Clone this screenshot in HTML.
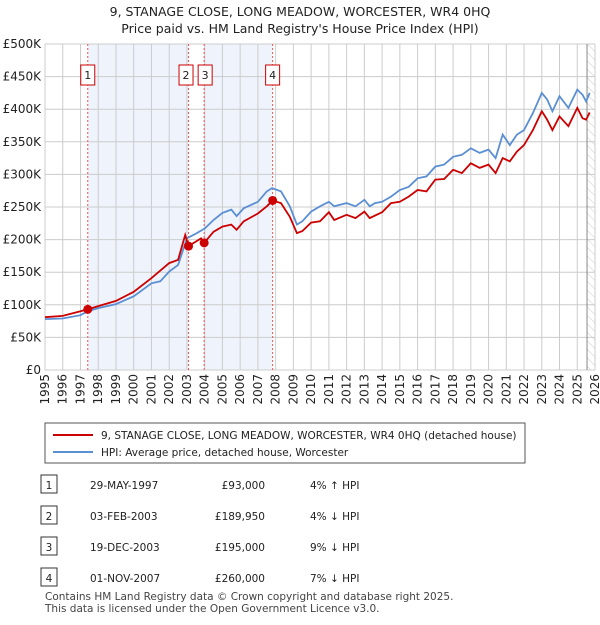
<!DOCTYPE html>
<html><head><meta charset="utf-8"><style>
body{margin:0;background:#fff;font-family:"Liberation Sans","DejaVu Sans",sans-serif;}
svg text{font-family:"DejaVu Sans","Liberation Sans",sans-serif;}
</style></head><body>
<svg id="c" width="600" height="620" viewBox="0 0 600 620">
<defs><pattern id="hatch" width="6" height="6" patternUnits="userSpaceOnUse" patternTransform="rotate(-45)"><line x1="0" y1="0" x2="0" y2="6" stroke="#ccc" stroke-width="1"/></pattern></defs>
<text x="300" y="16" text-anchor="middle" font-size="12.5" fill="#222">9, STANAGE CLOSE, LONG MEADOW, WORCESTER, WR4 0HQ</text>
<text x="300" y="33" text-anchor="middle" font-size="12.5" fill="#222">Price paid vs. HM Land Registry's House Price Index (HPI)</text>
<g id="plot"></g>
<rect x="45" y="423" width="480" height="40" fill="#fff" stroke="#555"/>
<line x1="53" y1="435" x2="93" y2="435" stroke="#cc0000" stroke-width="2"/>
<text x="101" y="439" font-size="10.5" fill="#222">9, STANAGE CLOSE, LONG MEADOW, WORCESTER, WR4 0HQ (detached house)</text>
<line x1="53" y1="452" x2="93" y2="452" stroke="#5b8fd4" stroke-width="2"/>
<text x="101" y="456" font-size="10.5" fill="#222">HPI: Average price, detached house, Worcester</text>
<g id="tbl"></g>
<text x="45" y="600" font-size="10.5" fill="#444">Contains HM Land Registry data © Crown copyright and database right 2025.</text>
<text x="45" y="612" font-size="10.5" fill="#444">This data is licensed under the Open Government Licence v3.0.</text>
</svg>
<script>
const hpiYears=[1995,1996,1997,1997.4,1998,1999,2000,2001,2001.5,2002,2002.5,2003,2003.5,2004,2004.5,2005,2005.5,2005.8,2006.2,2007,2007.5,2007.8,2008.3,2008.8,2009.2,2009.5,2010,2010.5,2011,2011.3,2012,2012.5,2013,2013.3,2013.6,2014,2014.5,2015,2015.5,2016,2016.5,2017,2017.5,2018,2018.5,2019,2019.5,2020,2020.4,2020.8,2021.2,2021.6,2022,2022.5,2023,2023.3,2023.6,2024,2024.5,2025,2025.3,2025.5,2025.7];
const hpiValues=[78,79,84,90,95,101,113,133,136,151,161,202,209,217,230,241,246,236,248,258,274,279,274,251,223,228,243,251,258,251,256,251,261,251,256,258,266,276,281,294,297,312,315,327,330,340,333,338,325,361,345,361,368,394,425,415,397,420,402,430,422,412,425];
const priceYears=[1995,1996,1997,1997.4,1998,1999,2000,2001,2002,2002.5,2002.9,2003.09,2003.5,2003.8,2003.97,2004.5,2005,2005.5,2005.8,2006.2,2007,2007.5,2007.83,2008.3,2008.8,2009.2,2009.5,2010,2010.5,2011,2011.3,2012,2012.5,2013,2013.3,2014,2014.5,2015,2015.5,2016,2016.5,2017,2017.5,2018,2018.5,2019,2019.5,2020,2020.4,2020.8,2021.2,2021.6,2022,2022.5,2023,2023.3,2023.6,2024,2024.5,2025,2025.3,2025.5,2025.7];
const priceValues=[81,83,90,93,98,106,120,141,164,169,207,190,197,202,195,212,220,223,215,228,240,251,260,256,235,210,213,226,228,242,230,238,233,243,233,242,256,258,266,276,274,292,293,307,302,317,310,315,302,325,320,335,345,368,397,384,368,389,374,402,386,384,395];
const saleYears=[1997.41,2003.09,2003.97,2007.83];
const saleValues=[93,189.95,195,260];
const saleLabels=["1","2","3","4"];
const yTicks=[0,50,100,150,200,250,300,350,400,450,500];
const yTickLabels=["£0","£50K","£100K","£150K","£200K","£250K","£300K","£350K","£400K","£450K","£500K"];
const xTicks=[1995,1996,1997,1998,1999,2000,2001,2002,2003,2004,2005,2006,2007,2008,2009,2010,2011,2012,2013,2014,2015,2016,2017,2018,2019,2020,2021,2022,2023,2024,2025,2026];
const rowDates=["29-MAY-1997","03-FEB-2003","19-DEC-2003","01-NOV-2007"];
const rowPrices=["£93,000","£189,950","£195,000","£260,000"];
const rowHpi=["4% ↑ HPI","4% ↓ HPI","9% ↓ HPI","7% ↓ HPI"];

const NS="http://www.w3.org/2000/svg";
const X0=45,X1=595,Y0=370,Y1=44,T0=1995,T1=2026,dataEnd=2025.55;
const xs=t=>X0+(t-T0)/(T1-T0)*(X1-X0);
const ys=v=>Y0-v/500*(Y0-Y1);
const plot=document.getElementById('plot');
function mk(tag,attrs,parent){const e=document.createElementNS(NS,tag);for(const k in attrs)e.setAttribute(k,attrs[k]);(parent||plot).appendChild(e);return e;}
// shading
for(const [a,b] of [[saleYears[0],saleYears[1]],[saleYears[2],saleYears[3]]]){
 const r=mk('rect',{x:xs(a),y:Y1,width:xs(b)-xs(a),height:Y0-Y1,fill:'#eef3fc'});
 
 
}
const h=mk('rect',{x:xs(dataEnd),y:Y1,width:X1-xs(dataEnd),height:Y0-Y1,fill:'url(#hatch)'});


// grid
yTicks.forEach((v,i)=>{
 const l=mk('line',{x1:X0,x2:X1,y1:ys(v),y2:ys(v),stroke:'#ccc','stroke-width':1});
 
 
 const t=mk('text',{x:X0-4,y:ys(v)+4,'text-anchor':'end','font-size':12,fill:'#222'});
 t.textContent=yTickLabels[i];
 
 
});
xTicks.forEach(yr=>{
 const l=mk('line',{x1:xs(yr),x2:xs(yr),y1:Y1,y2:Y0,stroke:'#ccc','stroke-width':1});
 
 
 const t=mk('text',{x:0,y:0,'text-anchor':'end','font-size':12,fill:'#222',transform:`translate(${xs(yr)+4},374) rotate(-90)`});
 t.textContent=yr;
 
 
});
const el=mk('line',{x1:xs(dataEnd),x2:xs(dataEnd),y1:Y1,y2:Y0,stroke:'#888','stroke-width':1});


// sale lines and labels
saleYears.forEach((yr,i)=>{
 const l=mk('line',{x1:xs(yr),x2:xs(yr),y1:Y1,y2:Y0,stroke:'#e55','stroke-width':1,'stroke-dasharray':'2,2'});
 
 
 let bx=xs(yr)-7; if(i===1)bx=xs(yr)-9; if(i===2)bx=xs(yr)-8+1;
 if(i===1)bx=xs(yr)-9.5; if(i===2)bx=xs(yr)-6;
 const b=mk('rect',{x:bx,y:65,width:14,height:20,fill:'#fff',stroke:'#cc0000'});
 
 
 const t=mk('text',{x:bx+7,y:79,'text-anchor':'middle','font-size':11,fill:'#222'});
 t.textContent=saleLabels[i];
 
 
});
// lines
const pth=(xsArr,vs)=>xsArr.map((t,i)=>(i?'L':'M')+xs(t).toFixed(1)+','+ys(vs[i]).toFixed(1)).join('');
const bl=mk('path',{d:pth(hpiYears,hpiValues),fill:'none',stroke:'#5b8fd4','stroke-width':1.8});


const rl=mk('path',{d:pth(priceYears,priceValues),fill:'none',stroke:'#cc0000','stroke-width':1.8});


saleYears.forEach((yr,i)=>{
 const c=mk('circle',{cx:xs(yr),cy:ys(saleValues[i]),r:4.5,fill:'#cc0000'});
 
 
});
// table
const tbl=document.getElementById('tbl');
const rowY=[486,517,548,579];
rowDates.forEach((d,i)=>{
 const y=rowY[i];
 const b=mk('rect',{x:41,y:y-11,width:16,height:18,fill:'#fff',stroke:'#333'},tbl);
 
 
 const n=mk('text',{x:49,y:y+3,'text-anchor':'middle','font-size':10.5,fill:'#222'},tbl);
 n.textContent=saleLabels[i];
 
 
 const t1=mk('text',{x:90,y:y+3,'font-size':10.5,fill:'#222'},tbl);
 t1.textContent=d;
 
 
 const t2=mk('text',{x:265,y:y+3,'text-anchor':'end','font-size':10.5,fill:'#222'},tbl);
 t2.textContent=rowPrices[i];
 
 
 const t3=mk('text',{x:310,y:y+3,'font-size':10.5,fill:'#222'},tbl);
 t3.textContent=rowHpi[i];
 
 
});
</script>
</body></html>
